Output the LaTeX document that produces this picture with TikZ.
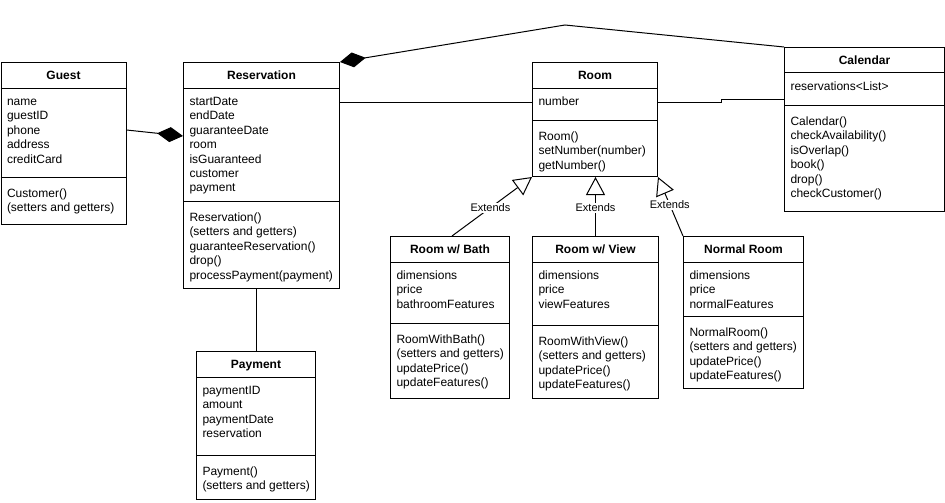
\documentclass[tikz,border=0pt]{standalone}
\usepackage{fontspec}
\setmainfont{Liberation Sans}
\usetikzlibrary{calc, arrows.meta}

\begin{document}
\begin{tikzpicture}[
    x=1pt, y=-1pt,
    line width=1pt,
    classbox/.style 2 args={draw, anchor=north west, inner sep=0pt, minimum width=#1, minimum height=#2},
    title/.style={anchor=base, inner sep=0pt, font=\fontsize{12pt}{14.4pt}\selectfont\bfseries},
    members/.style={anchor=north west, inner sep=0pt, align=left, font=\fontsize{12pt}{14.4pt}\selectfont},
    extends/.style={fill=white, inner sep=1pt, font=\fontsize{11pt}{13pt}\selectfont},
    compose/.tip={Diamond[length=26pt, width=15pt]},
    inherit/.tip={Triangle[open, length=18pt, width=19pt]}
]
    \useasboundingbox (0,0) rectangle (945,503);

    % Guest
    \node[classbox={125}{162}] (guest) at (0.5,62) {};
    \draw (guest.north west) ++(0,26) -- ++(125,0);
    \draw (guest.north west) ++(0,115) -- ++(125,0);
    \node[title] (guest-title) at ($(guest.north)+(0,17.3)$) {Guest};
    \node[members] (guest-attr) at ($(guest.north west)+(6,33)$) {\rule{0pt}{10pt}name\\guestID\\phone\\address\\creditCard};
    \node[members] (guest-ops) at ($(guest.north west)+(6,125)$) {\rule{0pt}{10pt}Customer()\\(setters and getters)};

    % Reservation
    \node[classbox={156}{226}] (reservation) at (183,62) {};
    \draw (reservation.north west) ++(0,26) -- ++(156,0);
    \draw (reservation.north west) ++(0,139) -- ++(156,0);
    \node[title] (reservation-title) at ($(reservation.north)+(0,17.3)$) {Reservation};
    \node[members] (reservation-attr) at ($(reservation.north west)+(6,33)$) {\rule{0pt}{10pt}startDate\\endDate\\guaranteeDate\\room\\isGuaranteed\\customer\\payment};
    \node[members] (reservation-ops) at ($(reservation.north west)+(6,149)$) {\rule{0pt}{10pt}Reservation()\\(setters and getters)\\guaranteeReservation()\\drop()\\processPayment(payment)};

    % Room
    \node[classbox={125}{114}] (room) at (532,62) {};
    \draw (room.north west) ++(0,26) -- ++(125,0);
    \draw (room.north west) ++(0,58) -- ++(125,0);
    \node[title] (room-title) at ($(room.north)+(0,17.3)$) {Room};
    \node[members] (room-attr) at ($(room.north west)+(6,33)$) {\rule{0pt}{10pt}number};
    \node[members] (room-ops) at ($(room.north west)+(6,68)$) {\rule{0pt}{10pt}Room()\\setNumber(number)\\getNumber()};

    % Calendar
    \node[classbox={160}{164}] (calendar) at (784,47) {};
    \draw (calendar.north west) ++(0,26) -- ++(160,0);
    \draw (calendar.north west) ++(0,58) -- ++(160,0);
    \node[title] (calendar-title) at ($(calendar.north)+(0,17.3)$) {Calendar};
    \node[members] (calendar-attr) at ($(calendar.north west)+(6,33)$) {\rule{0pt}{10pt}reservations<List>};
    \node[members] (calendar-ops) at ($(calendar.north west)+(6,68)$) {\rule{0pt}{10pt}Calendar()\\checkAvailability()\\isOverlap()\\book()\\drop()\\checkCustomer()};

    % Room w/ Bath
    \node[classbox={119}{162}] (bath) at (390,236) {};
    \draw (bath.north west) ++(0,26) -- ++(119,0);
    \draw (bath.north west) ++(0,87) -- ++(119,0);
    \node[title] (bath-title) at ($(bath.north)+(0,17.3)$) {Room w/ Bath};
    \node[members] (bath-attr) at ($(bath.north west)+(6,33)$) {\rule{0pt}{10pt}dimensions\\price\\bathroomFeatures};
    \node[members] (bath-ops) at ($(bath.north west)+(6,97)$) {\rule{0pt}{10pt}RoomWithBath()\\(setters and getters)\\updatePrice()\\updateFeatures()};

    % Room w/ View
    \node[classbox={126}{162}] (view) at (532,236) {};
    \draw (view.north west) ++(0,26) -- ++(126,0);
    \draw (view.north west) ++(0,89) -- ++(126,0);
    \node[title] (view-title) at ($(view.north)+(0,17.3)$) {Room w/ View};
    \node[members] (view-attr) at ($(view.north west)+(6,33)$) {\rule{0pt}{10pt}dimensions\\price\\viewFeatures};
    \node[members] (view-ops) at ($(view.north west)+(6,99)$) {\rule{0pt}{10pt}RoomWithView()\\(setters and getters)\\updatePrice()\\updateFeatures()};

    % Normal Room
    \node[classbox={120}{152}] (normal) at (683,236) {};
    \draw (normal.north west) ++(0,26) -- ++(120,0);
    \draw (normal.north west) ++(0,80) -- ++(120,0);
    \node[title] (normal-title) at ($(normal.north)+(0,17.3)$) {Normal Room};
    \node[members] (normal-attr) at ($(normal.north west)+(6,33)$) {\rule{0pt}{10pt}dimensions\\price\\normalFeatures};
    \node[members] (normal-ops) at ($(normal.north west)+(6,90)$) {\rule{0pt}{10pt}NormalRoom()\\(setters and getters)\\updatePrice()\\updateFeatures()};

    % Payment
    \node[classbox={119}{148}] (payment) at (196,351) {};
    \draw (payment.north west) ++(0,26) -- ++(119,0);
    \draw (payment.north west) ++(0,104) -- ++(119,0);
    \node[title] (payment-title) at ($(payment.north)+(0,17.3)$) {Payment};
    \node[members] (payment-attr) at ($(payment.north west)+(6,33)$) {\rule{0pt}{10pt}paymentID\\amount\\paymentDate\\reservation};
    \node[members] (payment-ops) at ($(payment.north west)+(6,114)$) {\rule{0pt}{10pt}Payment()\\(setters and getters)};

    % Associations
    \coordinate (bend) at (565,25);
    \draw[-compose] ($(guest.north east)+(0,68)$) -- ($(reservation.north west)+(0,74)$);
    \draw[compose-] (reservation.north east) -- (bend) -- (calendar.north west);
    \draw ($(reservation.north east)+(0,40)$) -- ($(room.north west)+(0,40)$);
    \draw ($(room.north east)+(0,40.5)$) -- ++(63.5,0) |- ($(calendar.north west)+(0,52.3)$);
    \draw (payment.north) -- (payment.north |- reservation.south);

    % Generalizations
    \draw[-inherit] ($(bath.north)+(2,0)$) -- (room.south west) node[extends, pos=0.48] (bath-ext) {Extends};
    \draw[-inherit] (view.north) -- (view.north |- room.south) node[extends, pos=0.48] (view-ext) {Extends};
    \draw[-inherit] (normal.north west) -- (room.south east) node[extends, pos=0.53] (normal-ext) {Extends};

\end{tikzpicture}
\end{document}
